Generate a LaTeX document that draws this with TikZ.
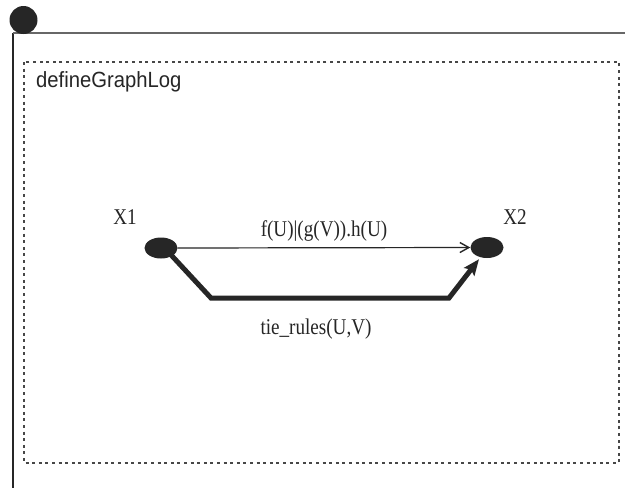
\documentclass[tikz,border=0pt]{standalone}
\usepackage{fontspec}
\setmainfont{Liberation Serif}
\newfontfamily\lblserif[FakeStretch=0.85]{Liberation Serif}
\newfontfamily\labelsans[FakeStretch=0.92]{Liberation Sans}
\usetikzlibrary{arrows.meta,shapes.geometric}
\definecolor{ink}{HTML}{262626}
\tikzset{
  vertex/.style={ellipse, fill=ink, draw=none, minimum width=33pt, minimum height=21pt, inner sep=0pt},
  vlabel/.style={font=\lblserif\fontsize{22.5}{22}\selectfont, text=ink, inner sep=0pt},
  elabel/.style={font=\lblserif\fontsize{22.5}{22}\selectfont, text=ink, inner sep=0pt},
  thinedge/.style={draw=ink, line width=1.2pt, -{Straight Barb[length=9pt,width=10pt,line width=1.4pt]}},
  thickedge/.style={draw=ink, line width=5pt, line join=miter, -{Stealth[length=16pt,width=13pt,inset=3pt]}},
  frameline/.style={draw=ink, line width=2pt},
  boxline/.style={draw=ink!85, line width=2pt, dash pattern=on 3pt off 3.6pt}
}
\begin{document}
\begin{tikzpicture}[x=1pt,y=-1pt]
  \useasboundingbox (0,0) rectangle (625,488);
  \fill[white] (0,0) rectangle (625,488);

  % window frame and its corner knob
  \draw[frameline] (13,488) -- (13,33);
  \draw[draw=ink!70, line width=1.3pt] (13,33) -- (625,33);
  \node[circle, fill=ink, minimum size=28pt, inner sep=0pt] (knob) at (23.5,20) {};

  % dotted graph area with its title
  \draw[boxline] (24,62) rectangle (619,463);
  \node[anchor=base west, font=\labelsans\fontsize{22}{22}\selectfont, text=ink, inner sep=0pt] (title) at (36,87) {defineGraphLog};

  % vertices
  \node[vertex] (x1) at (161,248) {};
  \node[vertex] (x2) at (487,247.5) {};
  \node[vlabel] (x1l) at (125,217) {X1};
  \node[vlabel] (x2l) at (515,217) {X2};

  % edges
  \draw[thinedge] (x1.east) -- (x2.west)
    node[elabel, midway, above=6pt] (flabel) {f(U)|(g(V)).h(U)};
  \coordinate (c1) at (211,298);
  \coordinate (c2) at (449,298);
  \draw[thickedge] (x1.south east) ++(-3,-2) -- (c1) -- (c2) -- ([xshift=-8pt,yshift=-1pt]x2.south);
  \node[elabel] (tlabel) at (316,329) {tie\_rules(U,V)};
\end{tikzpicture}
\end{document}
